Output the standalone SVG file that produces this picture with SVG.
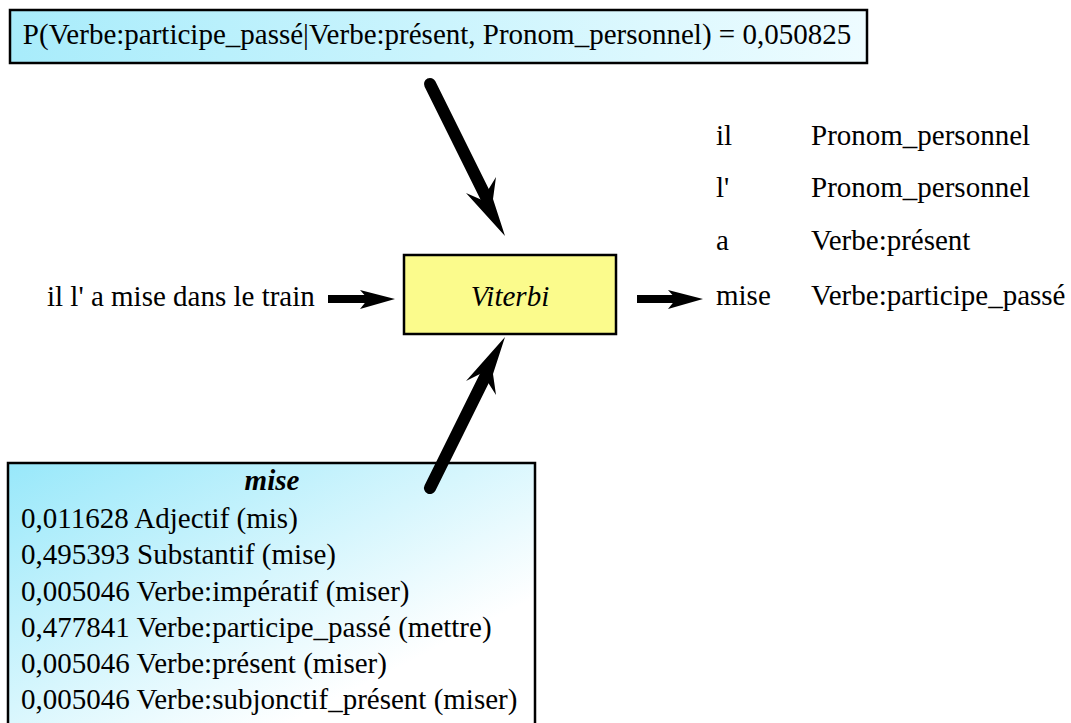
<svg xmlns="http://www.w3.org/2000/svg" width="1071" height="723" viewBox="0 0 1071 723">
<style>
text{font-family:'Liberation Serif','Times New Roman',serif;fill:#000;font-size:29px}
.box{stroke:#000;stroke-width:2.5}
.shaft{stroke:#000;stroke-linecap:round;fill:none}
.head{fill:#000}
</style>
<defs>
<linearGradient id="gTop" x1="0" y1="0" x2="1" y2="0">
<stop offset="0" stop-color="#a8ecfb"/>
<stop offset="1" stop-color="#eefcff"/>
</linearGradient>
<linearGradient id="gBot" x1="0" y1="0" x2="1" y2="1">
<stop offset="0" stop-color="#98e8fa"/>
<stop offset="0.75" stop-color="#ffffff"/>
<stop offset="1" stop-color="#ffffff"/>
</linearGradient>
</defs>
<g id="prob">
<rect class="box" x="10" y="10" width="857" height="53" fill="url(#gTop)"/>
<text x="437" y="44" text-anchor="middle" font-size="30">P(Verbe:participe_passé|Verbe:présent, Pronom_personnel) = 0,050825</text>
</g>
<g id="viterbi">
<rect class="box" x="404" y="255" width="212" height="79" fill="#fbfb8c"/>
<text x="510" y="306" text-anchor="middle" font-style="italic">Viterbi</text>
</g>
<g id="input">
<text x="47" y="306">il l' a mise dans le train</text>
</g>
<g id="output">
<text x="716" y="145">il</text><text x="811" y="145">Pronom_personnel</text>
<text x="716" y="197">l'</text><text x="811" y="197">Pronom_personnel</text>
<text x="716" y="250">a</text><text x="811" y="250">Verbe:présent</text>
<text x="716" y="305">mise</text><text x="811" y="305">Verbe:participe_passé</text>
</g>
<g id="mise">
<rect class="box" x="8" y="463" width="527" height="270" fill="url(#gBot)"/>
<text x="272" y="490" text-anchor="middle" font-style="italic" font-weight="bold">mise</text>
<text x="21" y="528">0,011628 Adjectif (mis)</text>
<text x="21" y="564">0,495393 Substantif (mise)</text>
<text x="21" y="601">0,005046 Verbe:impératif (miser)</text>
<text x="21" y="637">0,477841 Verbe:participe_passé (mettre)</text>
<text x="21" y="673">0,005046 Verbe:présent (miser)</text>
<text x="21" y="709">0,005046 Verbe:subjonctif_présent (miser)</text>
</g>
<g id="connectors">
<line class="shaft" x1="430" y1="84" x2="486" y2="197" stroke-width="12"/>
<polygon class="head" points="505,236 466,193 482,200 496,177 493,199"/>
<line class="shaft" x1="430" y1="488" x2="486" y2="375" stroke-width="12"/>
<polygon class="head" points="505,337 466,381 482,373 496,395 493,374"/>
<line x1="328" y1="299" x2="370" y2="299" stroke="#000" stroke-width="8"/>
<polygon class="head" points="395,299 360,290 368,299 360,309"/>
<line x1="637" y1="299" x2="678" y2="299" stroke="#000" stroke-width="8"/>
<polygon class="head" points="703,299 668,290 676,299 668,309"/>
</g>
</svg>
